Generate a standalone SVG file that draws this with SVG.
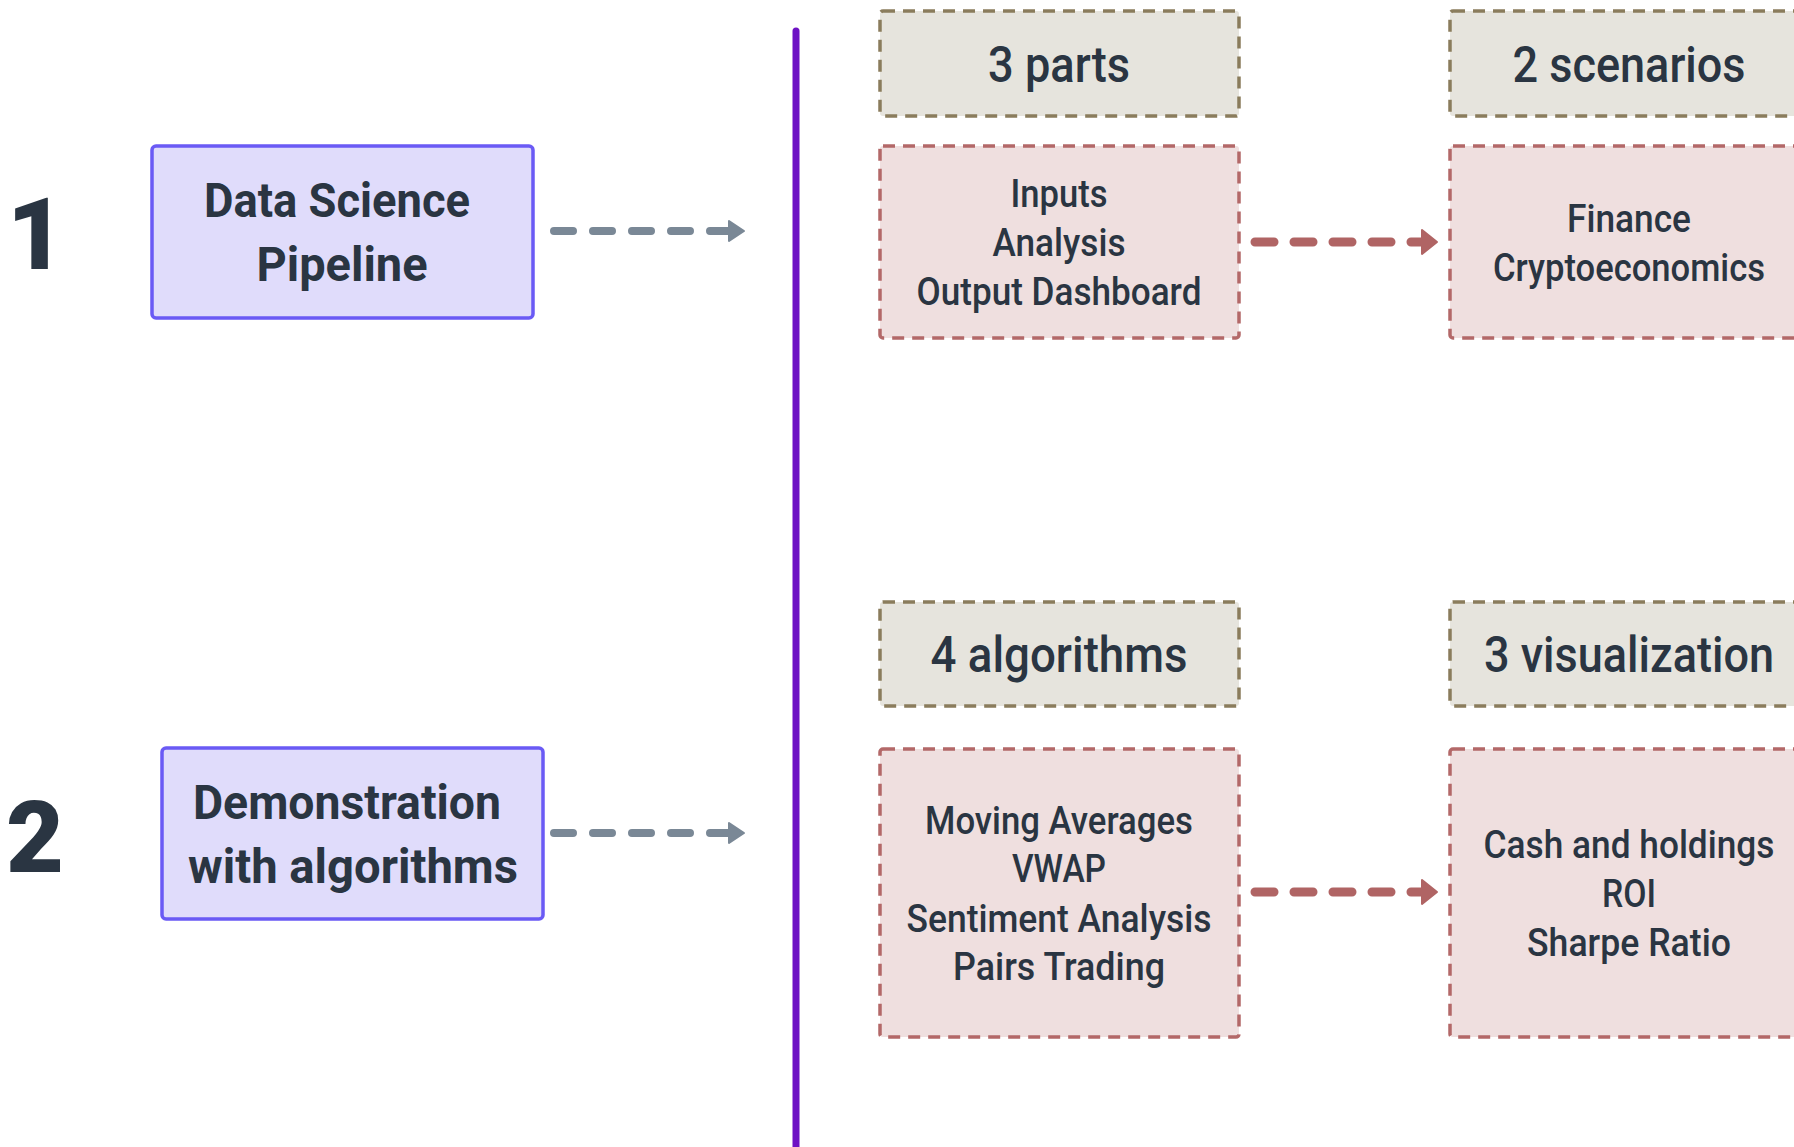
<svg xmlns="http://www.w3.org/2000/svg" width="1794" height="1147" viewBox="0 0 1794 1147">
  <style>
    text { font-family: Roboto, "Liberation Sans", sans-serif; fill: #2a3542; text-anchor: middle; }
    .num { font-size: 100px; font-weight: 900; }
    .title { font-size: 48px; font-weight: 700; }
    .head { font-size: 50px; font-weight: 500; }
    .body { font-size: 38px; font-weight: 500; }
    .topic { fill: #e0dcfb; stroke: #6a5af5; stroke-width: 3.5; }
    .tag { fill: #e6e4dd; stroke: #8a7c5c; stroke-width: 3.5; stroke-dasharray: 12 8; }
    .list { fill: #efdfdf; stroke: #b36868; stroke-width: 3.5; stroke-dasharray: 12 8; }
    .flow-grey { fill: none; stroke: #7a8896; stroke-width: 8; stroke-linecap: round; stroke-dasharray: 19 20; }
    .flow-red { fill: none; stroke: #b06464; stroke-width: 9; stroke-linecap: round; stroke-dasharray: 19 20; }
  </style>
  <defs>
    <marker id="head-grey" markerUnits="userSpaceOnUse" markerWidth="22" markerHeight="28" refX="14" refY="14" orient="auto">
      <path d="M3,4 L18,14 L3,24 Z" fill="#7a8896" stroke="#7a8896" stroke-width="2" stroke-linejoin="round"/>
    </marker>
    <marker id="head-red" markerUnits="userSpaceOnUse" markerWidth="22" markerHeight="30" refX="14" refY="15" orient="auto">
      <path d="M3,3 L18,15 L3,27 Z" fill="#b06464" stroke="#b06464" stroke-width="2" stroke-linejoin="round"/>
    </marker>
  </defs>

  <rect width="1794" height="1147" fill="#ffffff"/>

  <!-- divider between topics and details -->
  <line x1="796" y1="31" x2="796" y2="1160" stroke="#6e12c4" stroke-width="7" stroke-linecap="round"/>

  <!-- step numbers -->
  <g id="step-1"><text class="num" x="36" y="269">1</text></g>
  <g id="step-2"><text class="num" x="35" y="872">2</text></g>

  <!-- topics -->
  <g id="topic-pipeline">
    <rect class="topic" x="152" y="146" width="381" height="172" rx="4"/>
    <text class="title" x="337" y="217" textLength="266" lengthAdjust="spacingAndGlyphs">Data Science</text>
    <text class="title" x="342" y="281" textLength="171" lengthAdjust="spacingAndGlyphs">Pipeline</text>
  </g>
  <g id="topic-demo">
    <rect class="topic" x="162" y="748" width="381" height="171" rx="4"/>
    <text class="title" x="347" y="819" textLength="308" lengthAdjust="spacingAndGlyphs">Demonstration</text>
    <text class="title" x="353" y="883" textLength="330" lengthAdjust="spacingAndGlyphs">with algorithms</text>
  </g>

  <!-- detail headers -->
  <g id="tag-parts">
    <rect class="tag" x="880" y="11" width="359" height="105" rx="3"/>
    <text class="head" x="1059" y="82" textLength="142" lengthAdjust="spacingAndGlyphs">3 parts</text>
  </g>
  <g id="tag-scenarios">
    <rect class="tag" x="1450" y="11" width="359" height="105" rx="3"/>
    <text class="head" x="1629" y="82" textLength="233" lengthAdjust="spacingAndGlyphs">2 scenarios</text>
  </g>
  <g id="tag-algorithms">
    <rect class="tag" x="880" y="602" width="359" height="104" rx="3"/>
    <text class="head" x="1059" y="672" textLength="257" lengthAdjust="spacingAndGlyphs">4 algorithms</text>
  </g>
  <g id="tag-visualization">
    <rect class="tag" x="1450" y="602" width="359" height="104" rx="3"/>
    <text class="head" x="1629" y="672" textLength="290" lengthAdjust="spacingAndGlyphs">3 visualization</text>
  </g>

  <!-- detail lists -->
  <g id="list-parts">
    <rect class="list" x="880" y="146" width="359" height="192" rx="3"/>
    <text class="body" x="1059" y="207" textLength="97" lengthAdjust="spacingAndGlyphs">Inputs</text>
    <text class="body" x="1059" y="256" textLength="133" lengthAdjust="spacingAndGlyphs">Analysis</text>
    <text class="body" x="1059" y="305" textLength="285" lengthAdjust="spacingAndGlyphs">Output Dashboard</text>
  </g>
  <g id="list-scenarios">
    <rect class="list" x="1450" y="146" width="359" height="192" rx="3"/>
    <text class="body" x="1629" y="232" textLength="124" lengthAdjust="spacingAndGlyphs">Finance</text>
    <text class="body" x="1629" y="281" textLength="272" lengthAdjust="spacingAndGlyphs">Cryptoeconomics</text>
  </g>
  <g id="list-algorithms">
    <rect class="list" x="880" y="749" width="359" height="288" rx="3"/>
    <text class="body" x="1059" y="834" textLength="268" lengthAdjust="spacingAndGlyphs">Moving Averages</text>
    <text class="body" x="1059" y="882" textLength="94" lengthAdjust="spacingAndGlyphs">VWAP</text>
    <text class="body" x="1059" y="932" textLength="305" lengthAdjust="spacingAndGlyphs">Sentiment Analysis</text>
    <text class="body" x="1059" y="980" textLength="212" lengthAdjust="spacingAndGlyphs">Pairs Trading</text>
  </g>
  <g id="list-visualization">
    <rect class="list" x="1450" y="749" width="359" height="288" rx="3"/>
    <text class="body" x="1629" y="858" textLength="291" lengthAdjust="spacingAndGlyphs">Cash and holdings</text>
    <text class="body" x="1629" y="907" textLength="54" lengthAdjust="spacingAndGlyphs">ROI</text>
    <text class="body" x="1629" y="956" textLength="204" lengthAdjust="spacingAndGlyphs">Sharpe Ratio</text>
  </g>

  <!-- connectors -->
  <g id="connectors">
    <path class="flow-grey" d="M554,231 H740" marker-end="url(#head-grey)"/>
    <path class="flow-grey" d="M554,833 H740" marker-end="url(#head-grey)"/>
    <path class="flow-red" d="M1255,242 H1433" marker-end="url(#head-red)"/>
    <path class="flow-red" d="M1255,892 H1433" marker-end="url(#head-red)"/>
  </g>
</svg>
